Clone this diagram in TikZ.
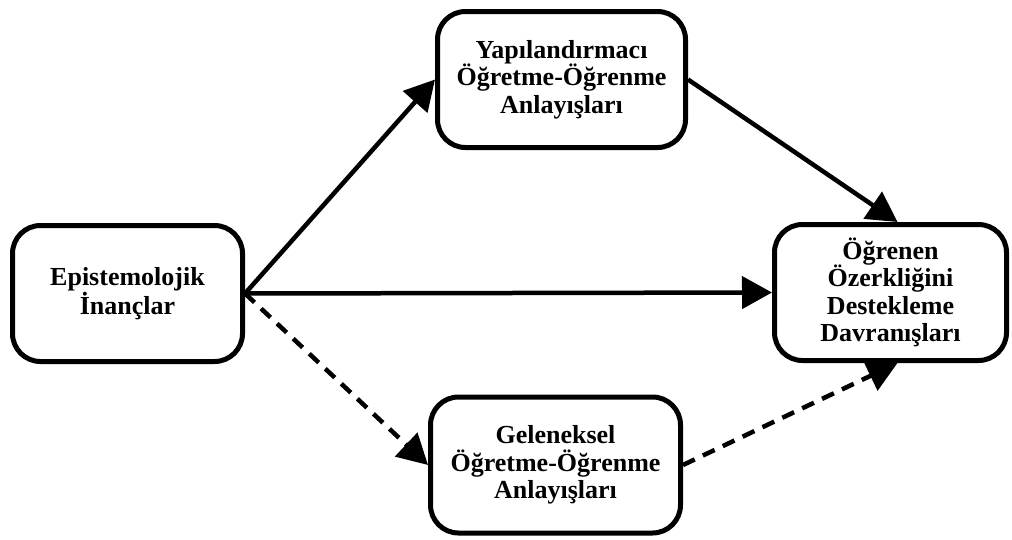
\documentclass[tikz,border=0pt]{standalone}
\usepackage{fontspec}
\setmainfont{Liberation Serif}
\usetikzlibrary{arrows.meta,positioning}

\begin{document}
\begin{tikzpicture}[
			x=1pt, y=-1pt,
			box/.style={rectangle, rounded corners=28pt, draw=black, fill=white, line width=5pt, minimum width=232pt, minimum height=136pt, align=center, font=\bfseries\fontsize{26}{27.5}\selectfont},
			arr/.style={line width=4.5pt, -{Triangle[length=30pt, width=32pt]}},
			dasharr/.style={arr, dash pattern=on 13pt off 9pt}
		]
		\useasboundingbox (0,0) rectangle (1012,539);

		\node[box, minimum width=230pt] (EPI) at (127.5,293.5) {Epistemolojik\\İnançlar};
		\node[box, minimum width=248pt] (YAP) [right=190pt of EPI, yshift=214pt] {Yapılandırmacı\\Öğretme-Öğrenme\\Anlayışları};
		\node[box, minimum width=250pt] (GEL) [right=183pt of EPI, yshift=-171.5pt] {Geleneksel\\Öğretme-Öğrenme\\Anlayışları};
		\node[box] (OGR) [right=527pt of EPI, yshift=1pt] {Öğrenen\\Özerkliğini\\Destekleme\\Davranışları};

		\draw[arr] (EPI.east) -- (YAP.west);
		\draw[arr] (EPI.east) -- (OGR.west);
		\draw[dasharr] (EPI.east) -- (GEL.west);
		\draw[arr] (YAP.east) -- ([xshift=7pt]OGR.north);
		\draw[dasharr] (GEL.east) -- ([xshift=7pt]OGR.south);
	\end{tikzpicture}
\end{document}
